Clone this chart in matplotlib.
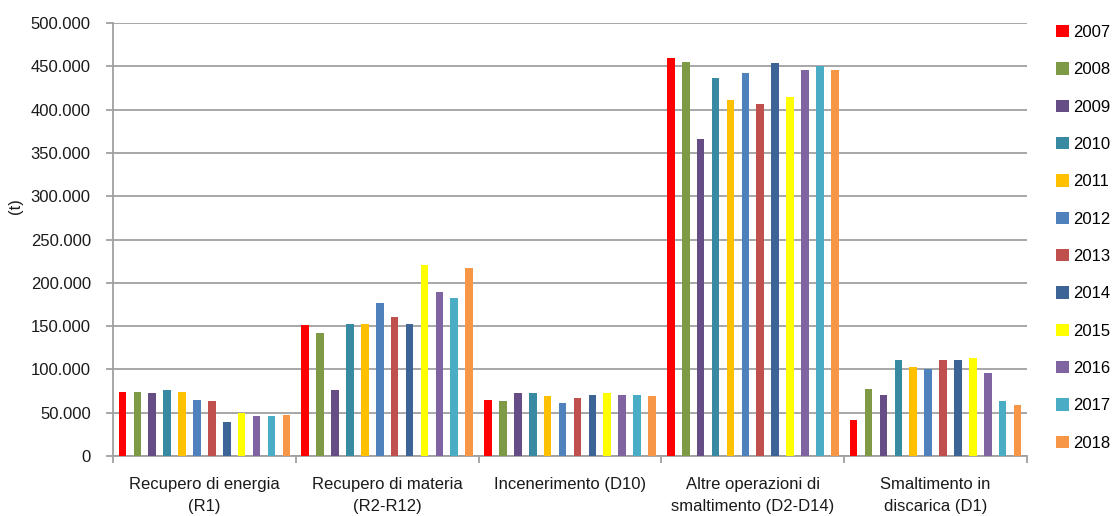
import numpy as np
import matplotlib.pyplot as plt
from matplotlib.ticker import FuncFormatter, FixedLocator

plt.rcParams['font.family'] = ['Liberation Sans', 'DejaVu Sans']

categories = ["Recupero di energia\n(R1)", "Recupero di materia\n(R2-R12)",
              "Incenerimento (D10)", "Altre operazioni di\nsmaltimento (D2-D14)",
              "Smaltimento in\ndiscarica (D1)"]
years = ["2007", "2008", "2009", "2010", "2011", "2012",
         "2013", "2014", "2015", "2016", "2017", "2018"]

# tonnellate per anno, una lista per categoria (2007..2018)
recupero_energia = [74000, 74000, 72500, 76000, 74000, 64500, 63000, 39500, 49500, 46000, 46000, 47500]
recupero_materia = [151000, 142000, 76000, 153000, 153000, 176500, 160500, 153000, 220500, 189000, 183000, 217500]
incenerimento = [64500, 63000, 72500, 72500, 69500, 61500, 67500, 71000, 72500, 71000, 71000, 69500]
altre_operazioni = [460000, 455000, 365500, 436000, 411000, 442500, 406500, 453500, 414000, 445500, 450000, 445500]
discarica = [41000, 77500, 71000, 110500, 103000, 100000, 110500, 110500, 113500, 96000, 63000, 58500]

colors = ['#FF0000', '#7E9A46', '#664D85', '#378AA2', '#FFC000', '#4F81BD',
          '#C0504D', '#3C6497', '#FFFF00', '#8064A2', '#4BACC6', '#F79646']

data = np.array([recupero_energia, recupero_materia, incenerimento,
                 altre_operazioni, discarica])

fig = plt.figure(figsize=(11.12, 5.16), dpi=100)
ax = fig.add_axes([113/1112, 60/516, (1027-113)/1112, (456-23)/516])

x = np.arange(len(categories))
slot = 0.0815
for i, year in enumerate(years):
    ax.bar(x + (i - 5.5)*slot, data[:, i], width=0.042, color=colors[i],
           label=year, zorder=3)

ax.set_xlim(-0.5, len(categories) - 0.5)
ax.set_ylim(0, 500000)
ax.set_yticks(np.arange(0, 500001, 50000))
ax.yaxis.set_major_formatter(FuncFormatter(lambda v, p: f"{int(v):,}".replace(',', '.')))
ax.grid(axis='y', color='#A0A0A0', linewidth=1.3, zorder=0)

ax.set_xticks(x)
ax.set_xticklabels(categories, fontsize=12, color='#1a1a1a', linespacing=1.6)
ax.xaxis.set_minor_locator(FixedLocator(np.arange(-0.5, len(categories), 1)))
ax.tick_params(axis='x', which='major', length=0, pad=15)
ax.tick_params(axis='x', which='minor', length=5, width=1.3, color='#A0A0A0')
ax.tick_params(axis='y', length=5, width=1.3, color='#A0A0A0', pad=11,
               labelsize=12, labelcolor='#1a1a1a')

for s in ['top', 'right']:
    ax.spines[s].set_visible(False)
for s in ['left', 'bottom']:
    ax.spines[s].set_color('#A0A0A0')
    ax.spines[s].set_linewidth(1.3)

fig.text(15/1112, 1 - 206/516, "(t)", rotation=90, fontsize=12,
         color='#1a1a1a', ha='center', va='center')

fig.legend(loc='upper left', bbox_to_anchor=(1056/1112, 1 - 25/516),
           frameon=False, fontsize=12, handlelength=0.75, handleheight=0.75,
           handletextpad=0.3, labelspacing=1.34, borderpad=0, borderaxespad=0)

fig.savefig("out.png", dpi=100)
